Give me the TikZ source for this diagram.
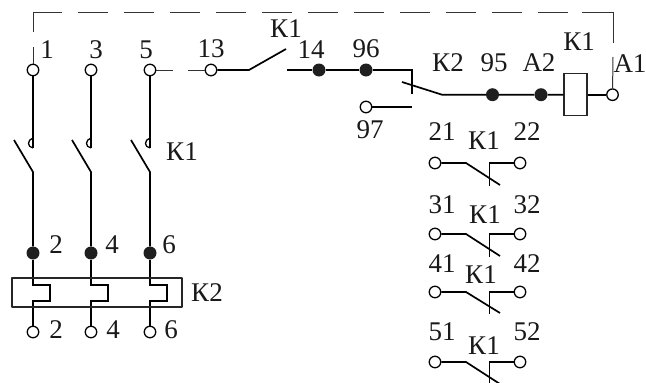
\documentclass[tikz,border=0pt]{standalone}
\usepackage{fontspec}
\setmainfont{Liberation Serif}
\tikzset{
  term/.style={circle,draw=black,fill=white,line width=1.3pt,inner sep=0pt,minimum size=11.5pt},
  jdot/.style={circle,fill=black!88,inner sep=0pt,minimum size=13pt},
  lab/.style={inner sep=0pt,font=\fontsize{27}{27}\selectfont,text=black!90},
  wire/.style={line width=1.7pt,line cap=butt},
  thin wire/.style={line width=1pt,draw=black!80},
  link/.style={thin wire,dash pattern=on 30pt off 16pt},
  box/.style={line width=1.3pt,draw=black!85,line join=round}
}
\begin{document}
\begin{tikzpicture}[x=1pt,y=-1pt]
\useasboundingbox (0,0) rectangle (646,383);
\fill[white] (0,0) rectangle (646,383);

% three power poles
\foreach \n/\x/\lx/\tx/\ux/\top/\mid/\bot in {a/33/47/56/56/1/2/2,b/91/96/112/113/3/4/4,c/150/146/169/171/5/6/6}{
  \node[term] (t\n) at (\x,70) {};
  \coordinate (h\n) at (\x,148);
  \coordinate (hk\n) at (\x,138);
  \coordinate (bl\n) at (\x-19,140);
  \coordinate (br\n) at (\x,172);
  \node[jdot] (d\n) at (\x,253) {};
  \node[term] (o\n) at (\x,332) {};
  \coordinate (r1\n) at (\x,285);
  \coordinate (r2\n) at (\x+17,285);
  \coordinate (r3\n) at (\x+17,301);
  \coordinate (r4\n) at (\x,301);
  \draw[wire] (t\n) -- (h\n);
  \draw[line width=1.3pt] (hk\n) .. controls (\x-6,140) and (\x-6,147) .. (h\n);
  \draw[wire] (bl\n) -- (br\n) -- (d\n);
  \draw[wire] (d\n) -- (r1\n) -- (r2\n) -- (r3\n) -- (r4\n) -- (o\n);
  \node[lab] (lt\n) at (\lx,50) {\top};
  \node[lab] (lm\n) at (\tx,245) {\mid};
  \node[lab] (lb\n) at (\ux,330) {\bot};
}
\draw[box] (12,278) rectangle (182,307);
\node[lab] (k1p) at (182,152) {К1};
\node[lab] (k2p) at (207,293) {К2};

% control circuit
\node[term] (t13) at (211,70) {};
\coordinate (s13) at (249,70);
\coordinate (b13) at (286,49);
\coordinate (s14) at (287,70);
\node[jdot] (d14) at (319,70) {};
\node[jdot] (d96) at (366,70) {};
\coordinate (c96) at (412,70);
\coordinate (c96b) at (412,94);
\coordinate (bl2) at (402,82);
\coordinate (br2) at (442,94.7);
\node[jdot] (d95) at (492.5,94.7) {};
\node[jdot] (da2) at (541,94.7) {};
\node[draw=black!85,line width=1.3pt,minimum width=23pt,minimum height=42pt,inner sep=0pt] (coil) at (575.5,94.7) {};
\node[term] (ta1) at (612.5,94.7) {};
\node[term] (t97) at (366,107) {};
\coordinate (c97) at (412,107);

\coordinate (g1) at (173,70);
\coordinate (g2) at (188,70);
\draw[thin wire] (tc) -- (g1);
\draw[thin wire] (g2) -- (t13);
\draw[wire] (t13) -- (s13) -- (b13);
\draw[wire] (s14) -- (d14) -- (d96) -- (c96) -- (c96b);
\draw[wire] (bl2) -- (br2) -- (d95) -- (da2) -- (coil);
\draw[wire] (coil) -- (ta1);
\draw[wire] (t97) -- (c97);

% mechanical link
\coordinate (la) at (33,47);
\coordinate (l0) at (33,32);
\coordinate (l1) at (33,12);
\coordinate (l2) at (613,12);
\coordinate (l3) at (613,43);
\coordinate (l4) at (613,57);
\draw[thin wire] (la) -- (ta);
\draw[thin wire] (l0) -- (l1) -- (62,12);
\draw[link] (78,12) -- (582,12);
\draw[thin wire] (582,12) -- (l2) -- (l3);
\draw[thin wire] (l4) -- (ta1);

\node[lab] (l13) at (211,49) {13};
\node[lab] (k1a) at (286,29) {К1};
\node[lab] (l14) at (311,50) {14};
\node[lab] (l96) at (366,49) {96};
\node[lab] (k2a) at (448,63) {К2};
\node[lab] (l95) at (494,63) {95};
\node[lab] (la2) at (539,63) {A2};
\node[lab] (k1c) at (579,42) {К1};
\node[lab] (la1) at (630,64) {A1};
\node[lab] (l97) at (370,130) {97};

% auxiliary NC contacts
\foreach \n/\y/\dy/\p/\q/\kx/\ky/\ly in {r/163/22/21/22/484/141/132,s/234/22/31/32/485/215/205,u/292/21/41/42/481/275/264,v/362/22/51/52/484/346/332}{
  \node[term] (p\n) at (435,\y) {};
  \node[term] (q\n) at (520,\y) {};
  \coordinate (m\n) at (466,\y);
  \coordinate (e\n) at (500,\y+\dy);
  \coordinate (v\n) at (489.5,\y);
  \coordinate (w\n) at (489.5,\y+\dy+1);
  \draw[wire] (p\n) -- (m\n) -- (e\n);
  \draw[wire] (q\n) -- (v\n) -- (w\n);
  \node[lab] (lp\n) at (442,\ly) {\p};
  \node[lab] (lq\n) at (527,\ly) {\q};
  \node[lab] (lk\n) at (\kx,\ky) {К1};
}
\end{tikzpicture}
\end{document}
